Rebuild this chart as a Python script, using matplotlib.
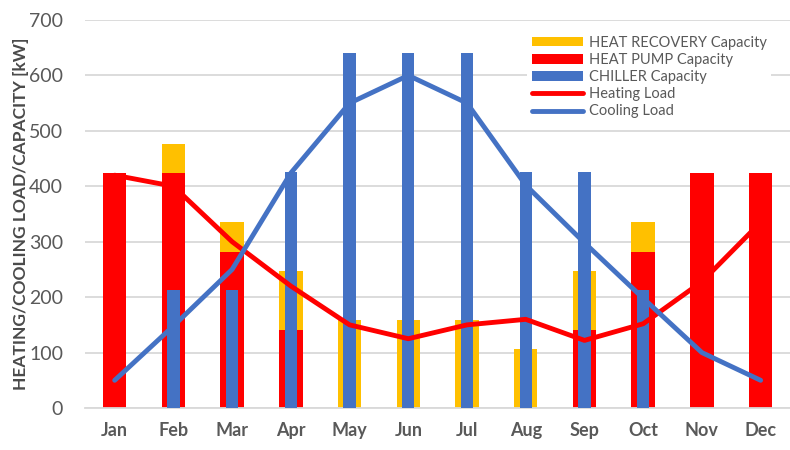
import numpy as np
import matplotlib.pyplot as plt

months = ["Jan", "Feb", "Mar", "Apr", "May", "Jun", "Jul", "Aug", "Sep", "Oct", "Nov", "Dec"]
heat_pump = [424, 424, 282, 141, 0, 0, 0, 0, 141, 282, 424, 424]
heat_recovery = [0, 53, 54, 106, 159, 159, 159, 106, 106, 54, 0, 0]
chiller = [0, 213, 213, 426, 640, 640, 640, 426, 426, 213, 0, 0]
heating_load = [420, 400, 300, 220, 150, 125, 150, 160, 122, 152, 228, 335]
cooling_load = [50, 148, 250, 424, 550, 600, 550, 402, 298, 198, 100, 50]

plt.rcParams['font.family'] = ['Lato', 'DejaVu Sans']
grey = "#595959"

fig = plt.figure(figsize=(7.9, 4.5), dpi=100)
ax = fig.add_axes([0.108, 0.0933, 0.892, 0.8623])

x = np.arange(len(months))
b_hr = ax.bar(x, heat_recovery, 0.40, bottom=heat_pump, color="#FFC000", label="HEAT RECOVERY Capacity", zorder=2)
b_hp = ax.bar(x, heat_pump, 0.40, color="#FF0000", label="HEAT PUMP Capacity", zorder=2)
b_ch = ax.bar(x, chiller, 0.21, color="#4472C4", label="CHILLER Capacity", zorder=3)
l_h, = ax.plot(x, heating_load, color="#FF0000", lw=3.5, solid_capstyle="round", solid_joinstyle="round",
               label="Heating Load", zorder=4)
l_c, = ax.plot(x, cooling_load, color="#4472C4", lw=3.5, solid_capstyle="round", solid_joinstyle="round",
               label="Cooling Load", zorder=4)

ax.set_xlim(-0.5, 11.5)
ax.set_ylim(0, 700)
ax.set_yticks(range(0, 701, 100))
ax.set_xticks(x)
ax.set_xticklabels(months, fontweight="bold", fontsize=13, color=grey)
ax.tick_params(axis="y", labelsize=14, labelcolor=grey, length=0, pad=16)
ax.tick_params(axis="x", length=0, pad=10)
ax.grid(axis="y", color="#D9D9D9", lw=1.3, zorder=0)
ax.set_axisbelow(True)
for s in ["top", "right", "left"]:
    ax.spines[s].set_visible(False)
ax.spines["bottom"].set_color("#D9D9D9")
ax.spines["bottom"].set_linewidth(1.3)

ax.set_ylabel("HEATING/COOLING LOAD/CAPACITY [kW]", fontsize=12.5, fontweight="bold", color="#4a4a4a")
ax.yaxis.set_label_coords(-0.08, 0.5)

handles = [b_hr, b_hp, b_ch, l_h, l_c]
leg = ax.legend(handles, [h.get_label() for h in handles], loc="upper left",
                bbox_to_anchor=(520 / 790, 1 - 24 / 450), bbox_transform=fig.transFigure,
                fontsize=10.5, frameon=True, facecolor="white", edgecolor="none", framealpha=1,
                handlelength=3.5, handleheight=0.65, labelspacing=0.22, borderpad=0.3, handletextpad=0.4,
                fancybox=False)
for t in leg.get_texts():
    t.set_color(grey)
leg.set_zorder(5)

plt.savefig("out.png", dpi=100)
